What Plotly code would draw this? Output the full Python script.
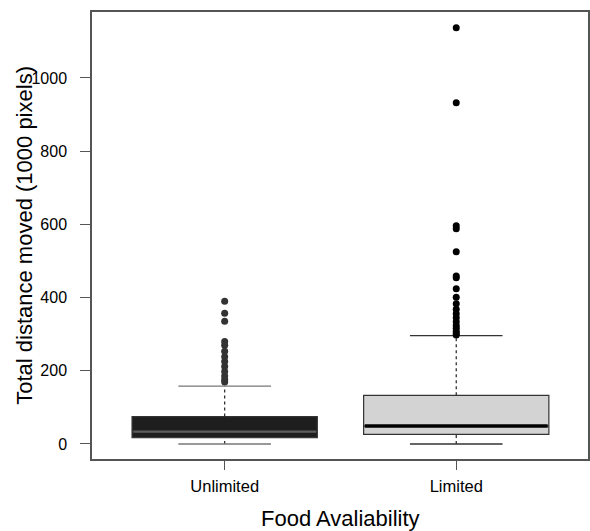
import plotly.graph_objects as go

categories = ["Unlimited", "Limited"]
positions = [0, 1]
q1 = [17, 26]
median = [34, 49]
q3 = [75, 133]
lower_whisker = [0, 0]
upper_whisker = [158, 296]
outliers_unlimited = [390, 357, 335, 280, 270, 253, 238, 225, 212, 198, 186, 176, 169]
outliers_limited = [1137, 932, 596, 588, 525, 459, 454, 424, 401, 383, 368, 356, 345,
                    334, 324, 316, 308, 302, 298]
box_fill = ["#1e1e1e", "#d3d3d3"]
median_color = ["#5c5c5c", "#000000"]
median_width = [2.2, 3.5]
cap_color = ["#777777", "#333333"]
outlier_color = ["#333333", "#000000"]
FONT = "Liberation Sans, Arial, sans-serif"

fig = go.Figure()
box_w = 0.8
cap_w = 0.4
for i, c in enumerate(positions):
    # dashed whiskers
    fig.add_trace(go.Scatter(
        x=[c, c, None, c, c], y=[q3[i], upper_whisker[i], None, lower_whisker[i], q1[i]],
        mode="lines", line=dict(color="#222222", width=1.2, dash="3px,3px"),
        hoverinfo="skip", showlegend=False))
    # caps
    fig.add_trace(go.Scatter(
        x=[c - cap_w / 2, c + cap_w / 2, None, c - cap_w / 2, c + cap_w / 2],
        y=[upper_whisker[i], upper_whisker[i], None, lower_whisker[i], lower_whisker[i]],
        mode="lines", line=dict(color=cap_color[i], width=1.3),
        hoverinfo="skip", showlegend=False))
    # box
    fig.add_trace(go.Box(
        x=[c], q1=[q1[i]], median=[median[i]], q3=[q3[i]],
        lowerfence=[q1[i]], upperfence=[q3[i]], width=box_w, whiskerwidth=0,
        fillcolor=box_fill[i], line=dict(color="#333333", width=1.2),
        boxpoints=False, hoverinfo="skip", showlegend=False))
    # median
    fig.add_trace(go.Scatter(
        x=[c - box_w / 2 + 0.005, c + box_w / 2 - 0.005], y=[median[i], median[i]],
        mode="lines", line=dict(color=median_color[i], width=median_width[i]),
        hoverinfo="skip", showlegend=False))

for i, pts in enumerate([outliers_unlimited, outliers_limited]):
    fig.add_trace(go.Scatter(
        x=[positions[i]] * len(pts), y=pts, mode="markers",
        marker=dict(color=outlier_color[i], size=7, line=dict(width=0)),
        hoverinfo="skip", showlegend=False))

fig.update_layout(
    width=590, height=531,
    margin=dict(l=92, r=0, t=12, b=72),
    plot_bgcolor="white", paper_bgcolor="white",
    font=dict(family=FONT, color="black", size=16),
    showlegend=False,
    xaxis=dict(range=[-0.573, 1.569], tickvals=positions, ticktext=categories,
               showgrid=False, zeroline=False, showline=True, mirror=True,
               linecolor="#555555", linewidth=1.5, ticks="outside", ticklen=9,
               tickcolor="#555555", tickwidth=1.2, ticklabelstandoff=2,
               tickfont=dict(size=16.5, family=FONT, color="black")),
    yaxis=dict(range=[-41, 1180], tickvals=[0, 200, 400, 600, 800, 1000],
               showgrid=False, zeroline=False, showline=True, mirror=True,
               linecolor="#555555", linewidth=1.5, ticks="outside", ticklen=10,
               tickcolor="#555555", tickwidth=1.2, ticklabelstandoff=10,
               tickfont=dict(size=16, family=FONT, color="black")),
    annotations=[
        dict(text="Food Avaliability", xref="paper", yref="paper",
             x=0.5, y=-0.132, xanchor="center", yanchor="middle",
             showarrow=False, font=dict(size=22, family=FONT, color="black")),
        dict(text="Total distance moved (1000 pixels)", xref="paper", yref="paper",
             x=(24 - 92) / 498, y=0.5, xanchor="center", yanchor="middle",
             textangle=-90, showarrow=False,
             font=dict(size=22, family=FONT, color="black")),
    ],
)

fig.write_html("out.html")
